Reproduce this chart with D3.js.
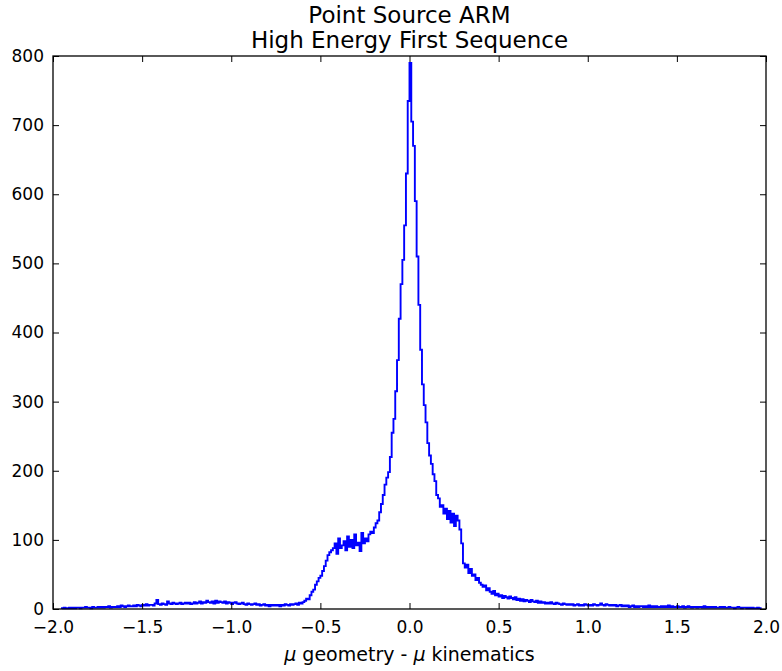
<!DOCTYPE html>
<html>
<head>
<meta charset="utf-8">
<script src="https://cdn.jsdelivr.net/npm/d3@7"></script>
<style>
  body { margin: 0; background: #fff; }
  text { font-family: "DejaVu Sans", sans-serif; }
</style>
</head>
<body>
<div id="chart"></div>
<script>
// histogram bins (0.01 wide, first bin starts at -1.95)
var binStart = -1.95;
var binWidth = 0.01;

// counts, split by region
var leftTail = [
  1, 2, 1, 1, 2, 1, 2, 1, 2, 2,
  1, 2, 2, 3, 2, 2, 1, 3, 2, 2,
  3, 2, 3, 2, 3, 3, 4, 2, 3, 3,
  3, 4, 3, 5, 4, 3, 4, 5, 4, 4,
  5, 4, 6, 5, 4, 6, 5, 7, 5, 6,
  6, 5, 8, 13, 7, 6, 8, 7, 6, 11,
  8, 7, 9, 8, 7, 8, 9, 7, 8, 9,
  8, 9, 7, 8, 10, 8, 9, 11, 8, 10,
  9, 12, 10, 9, 11, 8, 12, 9, 11, 10,
  9, 11, 8, 10, 9, 7, 9, 10, 8, 7,
  8, 9, 7, 6, 8, 7, 6, 7, 8, 6,
  7, 5, 6, 7, 5, 6, 4, 6, 5, 6,
  5, 6, 4, 6, 5, 7, 6, 5, 7, 6,
  7, 8, 6, 9, 8
];
var leftShoulder = [
  10, 12, 15, 14, 20, 25, 28, 35, 40, 45,
  48, 55, 62, 70, 78, 82, 85, 88, 95, 80,
  102, 88, 92, 98, 85, 105, 90, 100, 88, 108,
  92, 96, 84, 110, 95, 102, 98, 108, 112, 110
];
var core = [
  118, 124, 128, 140, 152, 165, 180, 190, 198, 220,
  255, 275, 315, 360, 420, 470, 505, 555, 630, 735,
  790, 705, 670, 590, 510, 440, 375, 325, 295, 270,
  240, 222, 210
];
var rightShoulder = [
  195, 185, 165, 160, 148, 150, 138, 145, 130, 142,
  125, 138, 120, 135, 128, 115, 95
];
var rightTail = [
  66, 60, 64, 52, 58, 48, 50, 42, 45, 38,
  35, 32, 34, 27, 30, 25, 22, 26, 20, 22,
  18, 20, 16, 19, 17, 15, 18, 16, 14, 17,
  13, 15, 12, 14, 11, 13, 12, 10, 13, 11,
  10, 12, 9, 11, 9, 10, 8, 9, 8, 10,
  8, 7, 9, 8, 7, 6, 8, 7, 6, 7,
  6, 7, 5, 6, 7, 5, 6, 5, 7, 6,
  5, 6, 5, 7, 6, 5, 6, 8, 6, 5,
  7, 6, 5, 6, 5, 6, 4, 5, 6, 4,
  5, 4, 5, 3, 4, 5, 3, 4, 3, 4,
  4, 3, 4, 3, 5, 3, 4, 3, 4, 3,
  3, 4, 3, 4, 3, 5, 3, 4, 3, 3,
  4, 3, 3, 4, 2, 3, 4, 3, 2, 3,
  3, 2, 3, 3, 2, 4, 2, 3, 2, 3,
  2, 3, 2, 2, 3, 2, 3, 2, 2, 3,
  2, 2, 1, 2, 3, 2, 1, 2, 2, 1,
  2, 1, 2, 1, 1, 2, 1
];

// tick values
var xTicks = [-2.0, -1.5, -1.0, -0.5, 0.0, 0.5, 1.0, 1.5, 2.0];
var yTicks = [0, 100, 200, 300, 400, 500, 600, 700, 800];

var counts = leftTail.concat(leftShoulder, core, rightShoulder, rightTail);

// svg and margins
var svgWidth = 782;
var svgHeight = 671;
var margin = { top: 56, right: 16, bottom: 62, left: 53 };
var width = svgWidth - margin.left - margin.right;
var height = svgHeight - margin.top - margin.bottom;

var svg = d3.select("#chart")
  .append("svg")
  .attr("width", svgWidth)
  .attr("height", svgHeight);

var chartGroup = svg.append("g")
  .attr("transform", `translate(${margin.left}, ${margin.top})`);

// scales
var xScale = d3.scaleLinear().domain([-2, 2]).range([0, width]);
var yScale = d3.scaleLinear().domain([0, 800]).range([height, 0]);

// step outline like matplotlib histtype='step'
var pts = [[binStart, 0]];
counts.forEach(function(c, i) {
  var x0 = binStart + i * binWidth;
  pts.push([x0, c]);
  pts.push([x0 + binWidth, c]);
});
pts.push([binStart + counts.length * binWidth, 0]);

var line = d3.line()
  .x(d => xScale(d[0]))
  .y(d => yScale(d[1]));

chartGroup.append("path")
  .datum(pts)
  .attr("d", line)
  .attr("fill", "none")
  .attr("stroke", "#0000ff")
  .attr("stroke-width", 1.9)
  .attr("stroke-linejoin", "miter");

// axes, ticks pointing inward on all four sides
var fmtX = d => d3.format(".1f")(d).replace("-", "\u2212");

var bottomAxis = d3.axisBottom(xScale).tickValues(xTicks).tickFormat(fmtX)
  .tickSizeInner(-6).tickSizeOuter(0).tickPadding(12);
var topAxis = d3.axisTop(xScale).tickValues(xTicks).tickFormat("")
  .tickSizeInner(-6).tickSizeOuter(0);
var leftAxis = d3.axisLeft(yScale).tickValues(yTicks).tickFormat(d3.format("d"))
  .tickSizeInner(-6).tickSizeOuter(0).tickPadding(9);
var rightAxis = d3.axisRight(yScale).tickValues(yTicks).tickFormat("")
  .tickSizeInner(-6).tickSizeOuter(0);

var axes = [
  chartGroup.append("g").attr("transform", `translate(0, ${height})`).call(bottomAxis),
  chartGroup.append("g").call(topAxis),
  chartGroup.append("g").call(leftAxis),
  chartGroup.append("g").attr("transform", `translate(${width}, 0)`).call(rightAxis)
];
axes.forEach(function(g) {
  g.select(".domain").remove();
  g.selectAll(".tick line").attr("stroke", "#000").attr("stroke-width", 1);
  g.selectAll(".tick text")
    .attr("fill", "#000")
    .attr("font-size", "17px")
    .attr("font-family", "DejaVu Sans");
});

// frame
chartGroup.append("rect")
  .attr("width", width)
  .attr("height", height)
  .attr("fill", "none")
  .attr("stroke", "#000")
  .attr("stroke-width", 1.3);

// title
svg.append("text")
  .attr("x", margin.left + width / 2)
  .attr("y", 23)
  .attr("text-anchor", "middle")
  .attr("font-size", "23px")
  .attr("fill", "#000")
  .text("Point Source ARM");

svg.append("text")
  .attr("x", margin.left + width / 2)
  .attr("y", 48)
  .attr("text-anchor", "middle")
  .attr("font-size", "23px")
  .attr("fill", "#000")
  .text("High Energy First Sequence");

// x axis label with italic mu
var xLabel = svg.append("text")
  .attr("x", margin.left + width / 2)
  .attr("y", 661)
  .attr("text-anchor", "middle")
  .attr("font-size", "19px")
  .attr("fill", "#000");
xLabel.append("tspan").attr("font-style", "italic").text("\u03bc");
xLabel.append("tspan").text(" geometry - ");
xLabel.append("tspan").attr("font-style", "italic").text("\u03bc");
xLabel.append("tspan").text(" kinematics");
</script>
</body>
</html>
